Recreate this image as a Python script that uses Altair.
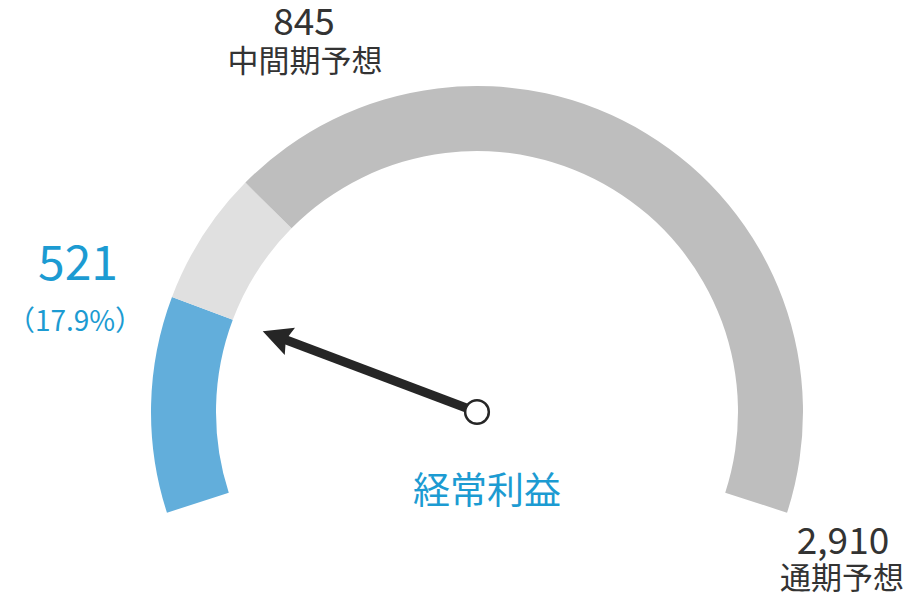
import math
import altair as alt
import pandas as pd

# ---- data ----
metric = ["経常利益"]
actual = [521]
interim_forecast = [845]
full_forecast = [2910]
interim_label = ["中間期予想"]
full_label = ["通期予想"]
seg_names = ["実績", "中間期予想まで", "通期予想まで"]
seg_colors = ["#62AEDB", "#E0E0E0", "#BEBEBE"]

# ---- layout ----
W, H = 904, 585
CX, CY = 469, 404
R_OUT, R_IN = 326, 261
SWEEP = 108          # degrees either side of the top
NEEDLE = 229
HEAD = 14.5
SHAFT = NEEDLE - 18
FONT = "Noto Sans CJK JP"
BLUE_TXT = "#1C9BD2"
DARK_TXT = "#333333"
NEEDLE_COL = "#262626"

act, mid, full = actual[0], interim_forecast[0], full_forecast[0]

seg = pd.DataFrame({
    "name": seg_names,
    "start": [0, act, mid],
    "end": [act, mid, full],
})

rad = SWEEP * math.pi / 180
arcs = alt.Chart(seg).mark_arc(strokeWidth=0).encode(
    theta=alt.Theta("start:Q", scale=alt.Scale(domain=[0, full], range=[-rad, rad]), stack=None),
    theta2="end:Q",
    color=alt.Color("name:N", scale=alt.Scale(domain=seg_names, range=seg_colors), legend=None),
    x=alt.value(CX),
    y=alt.value(CY),
    radius=alt.value(R_OUT),
    radius2=alt.value(R_IN),
)

xs = alt.Scale(domain=[0, W], range=[0, W], nice=False, zero=False)
ys = alt.Scale(domain=[0, H], range=[0, H], nice=False, zero=False)

nd = pd.DataFrame({"value": actual, "total": full_forecast})
base = alt.Chart(nd).transform_calculate(
    ang=f"(-{SWEEP} + {2 * SWEEP} * datum.value / datum.total) * PI / 180"
).transform_calculate(
    x0=f"{CX}",
    y0=f"{CY}",
    xs=f"{CX} + {SHAFT} * sin(datum.ang)",
    ys=f"{CY} - {SHAFT} * cos(datum.ang)",
    xh=f"{CX} + {NEEDLE - HEAD} * sin(datum.ang)",
    yh=f"{CY} - {NEEDLE - HEAD} * cos(datum.ang)",
    deg="360 + datum.ang * 180 / PI",
)

shaft = base.mark_rule(strokeWidth=9, color=NEEDLE_COL).encode(
    x=alt.X("x0:Q", scale=xs, axis=None),
    y=alt.Y("y0:Q", scale=ys, axis=None),
    x2="xs:Q",
    y2="ys:Q",
)

ARROW = "M0,-1L1,1L0,0.7L-1,1Z"
head = base.mark_point(shape=ARROW, size=(2 * HEAD) ** 2, filled=True,
                       color=NEEDLE_COL, opacity=1, strokeWidth=0).encode(
    x=alt.X("xh:Q", scale=xs, axis=None),
    y=alt.Y("yh:Q", scale=ys, axis=None),
    angle=alt.Angle("deg:Q", scale=None),
)

hub = base.mark_point(shape="circle", size=560, filled=True, fill="white",
                      stroke=NEEDLE_COL, strokeWidth=2.5, opacity=1).encode(
    x=alt.X("x0:Q", scale=xs, axis=None),
    y=alt.Y("y0:Q", scale=ys, axis=None),
)


def label(text, x, y, size, color):
    df = pd.DataFrame({"t": [text]})
    return alt.Chart(df).mark_text(font=FONT, fontSize=size, color=color,
                                   align="center", baseline="middle").encode(
        text="t:N", x=alt.value(x), y=alt.value(y))


texts = [
    label(f"{mid:,}", 304 - 8, 24 - 8, 37, DARK_TXT),
    label(interim_label[0], 305 - 8, 63 - 8, 31, DARK_TXT),
    label(f"{act:,}", 78 - 8, 266 - 8, 48, BLUE_TXT),
    label(f"（{act / full * 100:.1f}%）", 75 - 8, 323 - 8, 28, BLUE_TXT),
    label(f"{full:,}", 843 - 8, 543 - 8, 37, DARK_TXT),
    label(full_label[0], 842 - 8, 580 - 8, 31, DARK_TXT),
    label(metric[0], 487 - 8, 493 - 8, 37, BLUE_TXT),
]

chart = alt.layer(arcs, shaft, head, hub, *texts).properties(
    width=W, height=H, padding=0,
    autosize=alt.AutoSizeParams(type="none"),
).configure_view(stroke=None)

chart.save("out.html", embed_options={"renderer": "svg", "actions": False})
